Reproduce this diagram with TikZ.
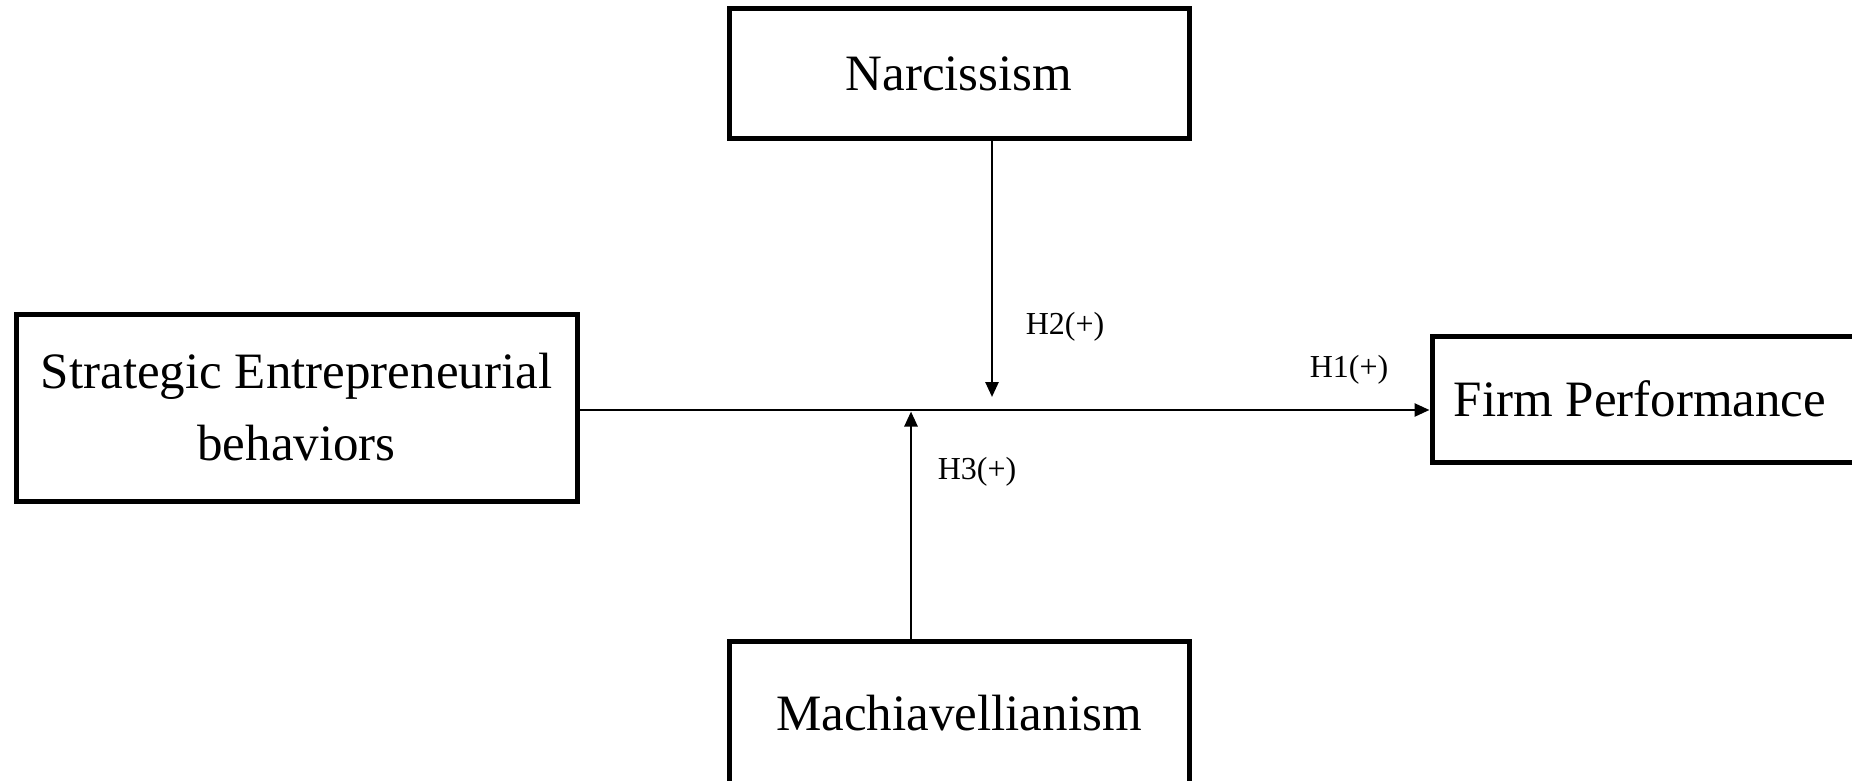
\documentclass[tikz,border=0pt]{standalone}
\usepackage{fontspec}
\setmainfont{Liberation Serif}
\usetikzlibrary{arrows.meta}
\begin{document}
\begin{tikzpicture}[x=1pt,y=-1pt,
  box/.style={draw=black, line width=5pt, fill=white, inner sep=0pt, align=center,
    font=\fontsize{51}{72}\selectfont},
  arr/.style={line width=2.6pt, -{Triangle[length=15pt,width=13pt]}},
  hyp/.style={font=\fontsize{32}{36}\selectfont, inner sep=0pt}]
\useasboundingbox (0,0) rectangle (1852,781);
\clip (0,0) rectangle (1852,781);
\fill[white] (0,0) rectangle (1852,781);
\node[box, minimum width=460pt, minimum height=130pt] (narc) at (959,73.5) {Narcissism};
\node[box, minimum width=561pt, minimum height=187pt] (seb) at (296.5,407.5) {Strategic Entrepreneurial\\behaviors};
\node[box, minimum width=440pt, minimum height=126pt, anchor=west] (firm) at (1429.5,399) {\hspace*{-24pt}Firm Performance};
\node[box, minimum width=460pt, minimum height=143pt] (mach) at (959,713) {Machiavellianism};
\coordinate (mainy) at (0,410);
\coordinate (h2end) at (992,397);
\coordinate (h3end) at (911,411.5);
\draw[arr] (seb.east |- mainy) -- (firm.west |- mainy);
\draw[arr] (narc.south -| h2end) -- (h2end);
\draw[arr] (mach.north -| h3end) -- (h3end);
\node[hyp] (h1) at (1349,370) {H1(+)};
\node[hyp] (h2) at (1065,327) {H2(+)};
\node[hyp] (h3) at (977,472) {H3(+)};
\end{tikzpicture}
\end{document}
